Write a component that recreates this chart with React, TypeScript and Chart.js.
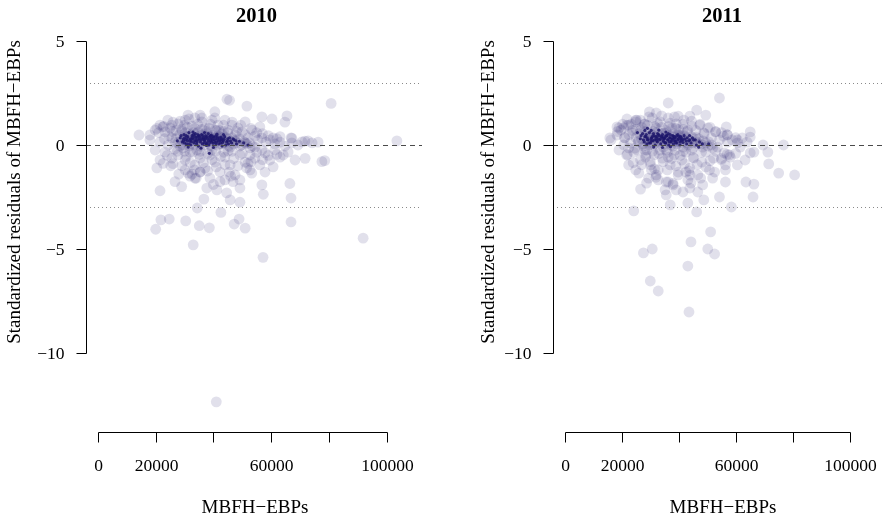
import { useEffect, useRef } from "react";
import { Chart, registerables } from "chart.js";

Chart.register(...registerables);

// ---------- data ----------
const panelTitles = ["2010", "2011"];
const xAxisTitle = "MBFH\u2212EBPs";
const yAxisTitle = "Standardized residuals of MBFH\u2212EBPs";
const xTicks = [0, 20000, 40000, 60000, 80000, 100000];
const xTickLabelsShown = [0, 20000, 60000, 100000];
const yTicks = [5, 0, -5, -10];
const refDashed = [0];
const refDotted = [3, -3];

const resid2010: [number, number][] = [
  [14200, 0.48], [18000, 0.24], [20400, 0.8], [22500, 0.87], [26000, 1.1], [31200, 1.44], [35400, 1.44],
  [40500, 1.6], [44700, 2.2], [45600, 2.15], [51600, 1.87], [56800, 1.35], [60300, 1.25], [65500, 1.4],
  [64800, 1.1], [56100, 0.87], [63100, 0.4], [67200, 0.33], [70700, 0.15], [72800, 0.2], [80800, 2.0],
  [103600, 0.2], [71800, -0.64], [77600, -0.8], [78600, -0.75], [64200, -0.48], [60700, -1.05],
  [66500, -1.85], [66900, -2.55], [66900, -3.7], [56800, -1.92], [57300, -2.37], [91900, -4.48],
  [57200, -5.4], [20400, -1.1], [22600, -0.88], [25200, -1.0], [21500, -2.2], [26700, -1.76],
  [29000, -2.0], [31300, -1.35], [31900, -1.5], [35400, -1.3], [37700, -2.07], [36700, -2.6],
  [34400, -3.03], [42300, -1.76], [41200, -2.16], [44600, -2.3], [45800, -2.64], [49200, -2.75],
  [49200, -2.07], [46800, -1.76], [53300, -1.35], [52000, -0.88], [42600, -3.24], [21800, -3.6],
  [20000, -4.05], [24700, -3.56], [30400, -3.65], [35100, -3.88], [38600, -3.98], [47200, -3.8],
  [48900, -3.56], [51000, -4.0], [33000, -4.8], [41000, -12.35], [60700, 0.34], [66900, 0.34],
  [18000, 0.48], [19800, 0.72], [21500, 0.96], [23200, 0.63], [25000, 0.82], [25600, 0.34], [27700, 1.01],
  [29100, 0.67], [30200, 1.2], [31200, 0.43], [32600, 0.91], [33600, 1.3], [34700, 0.63], [36000, 1.11],
  [37100, 0.82], [38100, 0.43], [39500, 1.2], [40600, 0.72], [41600, 0.96], [43000, 0.53], [44000, 1.2],
  [45100, 0.72], [46400, 0.96], [47500, 0.48], [48500, 0.82], [49900, 0.63], [51000, 1.11], [52000, 0.34],
  [53400, 0.72], [54400, 0.43], [55500, 0.24], [56800, 0.34], [58200, 0.14], [59600, 0.24], [61300, 0.05],
  [63100, 0.14], [64800, -0.05], [67200, 0.1], [69300, 0], [71700, 0.19], [74200, 0.1], [76300, 0.14],
  [26700, 0.14], [28400, -0.05], [30200, 0.24], [31900, 0.05], [33600, 0.29], [35400, -0.05], [37100, 0.19],
  [38800, 0], [40600, 0.29], [42300, 0.05], [44000, 0.14], [45800, -0.1], [47500, 0.19], [49200, -0.05],
  [51000, 0.1], [52700, -0.14], [29500, -0.14], [34300, -0.24], [39500, -0.24], [45100, -0.29],
  [24300, 0], [21500, 0.14], [54400, -0.1], [56800, -0.24],
  [23200, -0.34], [25600, -0.63], [27700, -0.48], [30200, -0.72], [31900, -0.34], [33600, -0.96],
  [35400, -0.63], [37100, -1.11], [38800, -0.48], [40600, -0.82], [42300, -1.3], [44000, -0.58],
  [45800, -0.96], [47500, -1.44], [49200, -0.48], [51000, -0.82], [52700, -1.2], [54400, -0.63],
  [56100, -0.96], [57900, -0.38], [59600, -0.72], [61300, -0.24], [63100, -0.58], [65900, -0.34],
  [68300, -0.72], [21500, -0.72], [19800, -0.24], [38800, -1.59], [33600, -1.59], [44000, -1.68],
  [49200, -1.68], [35400, -1.3], [30200, -1.2], [57900, -1.3], [52700, -0.48], [32600, -1.4],
];

const dense2010: [number, number][] = [
  [27000, 0.3], [27800, 0.1], [28300, 0.5], [28900, 0.25], [29400, 0.0], [29900, 0.4], [30400, 0.6],
  [30800, 0.15], [31300, 0.35], [31700, -0.05], [32100, 0.5], [32500, 0.2], [32900, 0.4], [33300, 0.0],
  [33700, 0.3], [34100, 0.55], [34500, 0.15], [34900, 0.4], [35300, 0.05], [35700, 0.3], [36100, 0.5],
  [36500, 0.2], [36900, 0.0], [37300, 0.35], [37700, 0.55], [38100, 0.15], [38500, 0.4], [38900, 0.25],
  [39300, -0.05], [39700, 0.35], [40100, 0.5], [40500, 0.1], [40900, 0.3], [41300, 0.0], [41700, 0.45],
  [42100, 0.2], [42500, 0.35], [42900, 0.05], [43300, 0.25], [43800, 0.4], [44300, 0.1], [44800, 0.3],
  [45300, -0.05], [45800, 0.2], [46400, 0.35], [47000, 0.05], [47600, 0.25], [48300, 0.1], [49000, 0.3],
  [49800, 0.0], [50600, 0.15], [51500, 0.05], [52500, 0.1], [53500, -0.05], [29000, 0.75], [31000, 0.85],
  [33500, 0.8], [36000, 0.75], [38500, 0.8], [41000, 0.7], [43500, 0.65], [30000, -0.3], [32800, -0.35],
  [35500, -0.3], [38000, -0.4], [40800, -0.3], [43600, -0.35], [46500, -0.3], [24500, 0.45], [25800, 0.65],
  [23000, 0.3], [26500, -0.2],
  [21000, 0.6], [22800, 0.9], [24200, 1.2], [25500, 0.95], [27000, 0.7], [28500, 1.15], [30000, 0.95],
  [31500, 1.25], [33000, 0.6], [34500, 1.0], [36000, 1.3], [37500, 0.65], [39000, 1.0], [40500, 1.3],
  [42000, 0.7], [43500, 0.95], [45000, 0.6], [46500, 1.1], [48000, 0.65], [49500, 0.95], [51000, 0.5],
  [53000, 0.8], [55000, 0.6], [57000, 0.55], [59000, 0.45], [62000, 0.3],
  [24000, -0.5], [26000, -0.9], [27500, -0.3], [29000, -1.0], [30500, -0.55], [32000, -0.85], [33500, -1.2],
  [35000, -0.45], [36500, -0.85], [38000, -1.25], [39500, -0.7], [41000, -1.05], [42500, -0.55],
  [44000, -0.95], [45500, -1.3], [47000, -0.65], [48500, -1.0], [50000, -0.4], [51500, -1.1], [53000, -0.8],
  [55000, -0.35], [57000, -0.7], [59000, -0.5], [62000, -0.45], [34000, -1.6], [40000, -1.9], [46000, -1.5],
  [28000, -1.4],
];

const core2010: [number, number][] = [
  [28500, 0.35], [29200, 0.15], [29800, 0.5], [30300, 0.25], [30700, 0.05], [31100, 0.4], [31500, 0.6],
  [31800, 0.2], [32200, 0.0], [32600, 0.45], [33000, 0.3], [33300, 0.1], [33700, 0.55], [34000, 0.22],
  [34400, 0.38], [34800, -0.05], [35100, 0.3], [35500, 0.15], [35900, 0.5], [36200, 0.05], [36600, 0.35],
  [37000, 0.2], [37300, 0.45], [37700, 0.1], [38000, 0.3], [38400, 0.0], [38800, 0.4], [39100, 0.2],
  [39500, 0.32], [39900, 0.08], [40300, 0.25], [40700, 0.42], [41100, 0.15], [41500, 0.3], [41900, 0.05],
  [42300, 0.22], [42700, 0.38], [43200, 0.12], [43700, 0.28], [44300, 0.0], [44900, 0.2], [45600, 0.35],
  [46300, 0.1], [47100, 0.25], [48000, 0.05], [49000, 0.18], [30000, 0.1], [31300, -0.1], [32900, 0.62],
  [34200, 0.05], [35700, -0.15], [36900, 0.6], [38200, 0.55], [40000, -0.12], [41200, 0.52], [43000, -0.05],
  [33500, 0.42], [36400, 0.28], [39300, 0.48], [37600, -0.02], [35000, 0.45], [32000, 0.3], [29500, 0.3],
  [45200, 0.05], [50500, 0.1], [52000, 0.0], [27500, 0.2], [38600, -0.4], [43500, 0.5],
  [28800, 0.45], [29600, 0.2], [30100, 0.35], [30900, 0.3], [31600, 0.05], [32400, 0.15], [32700, 0.35],
  [33100, 0.5], [33500, 0.2], [33900, 0.35], [34300, 0.15], [34600, 0.5], [35200, 0.4], [35600, 0.25],
  [36000, 0.35], [36300, 0.45], [36800, 0.1], [37200, 0.3], [37500, 0.05], [37900, 0.4], [38300, 0.2],
  [38700, 0.1], [39000, 0.45], [39400, 0.15], [39700, 0.25], [40100, 0.38], [40500, 0.15], [40900, 0.05],
  [41300, 0.4], [41700, 0.2], [42100, 0.35], [42500, 0.1], [42900, 0.3], [43400, 0.2], [43900, 0.4],
  [44600, 0.15], [45000, 0.3], [45900, 0.2], [46800, 0.3], [47800, 0.2], [31000, 0.2], [32300, 0.25],
  [34700, 0.25], [36700, 0.25], [38900, 0.3], [40800, 0.3], [42800, 0.25], [30600, 0.45], [37400, 0.38],
  [39800, 0.4],
];

const resid2011: [number, number][] = [
  [15800, 0.34], [18300, 0.87], [20700, 0.82], [24900, 1.11], [29700, 1.59], [32100, 1.54], [36300, 2.02],
  [39800, 1.39], [43900, 1.39], [46300, 1.68], [49500, 1.44], [54300, 2.26], [56700, 0.87], [57100, 0.48],
  [65100, 0.63], [65100, 0.38], [69600, 0], [76800, 0], [71300, -0.34], [66400, -0.34], [63300, -0.72],
  [71600, -0.91], [75100, -1.35], [80700, -1.44], [56400, -1.2], [56400, -1.78], [54300, -2.5],
  [58500, -2.98], [63600, -1.78], [66400, -1.88], [66100, -2.5], [24900, -1.2], [28700, -1.83],
  [26600, -2.12], [24200, -3.17], [37000, -2.88], [43200, -2.79], [46300, -3.22], [48800, -2.64],
  [39100, -2.16], [43900, -2.07], [35200, -2.16], [30400, -1.2], [32100, -1.44], [35600, -1.78],
  [51200, -4.18], [44300, -4.66], [27600, -5.19], [30700, -5.0], [50200, -5.0], [52600, -5.24],
  [30000, -6.54], [32800, -7.02], [43200, -5.82], [43600, -8.03],
  [65100, -0.38], [58100, -0.58], [56000, -0.38], [56400, -0.96], [61600, -0.1], [60600, 0.24],
  [19000, 0.82], [21700, 0.96], [24900, 1.2], [22400, -0.14], [28300, -0.58], [36300, -0.58],
  [36300, -1.78], [39800, -1.44], [42500, -1.3], [44300, -1.83], [47700, -1.59], [52600, -1.3],
  [16200, 0.24], [18300, 0.48], [19700, 0.72], [21000, 0.34], [22400, 0.96], [23800, 0.58], [25200, 1.2],
  [26600, 0.72], [28000, 1.01], [29400, 0.43], [30700, 1.3], [32100, 0.82], [33500, 1.11], [34900, 0.58],
  [36300, 1.3], [37700, 0.82], [39100, 1.01], [40400, 0.48], [41800, 1.2], [43200, 0.72], [44600, 0.91],
  [46000, 0.38], [47400, 0.96], [48800, 0.58], [50200, 0.82], [51500, 0.34], [52900, 0.63], [54300, 0.24],
  [55700, 0.43], [57100, 0.14], [58800, 0.24], [60600, 0.1], [62300, 0.34], [64000, 0.14],
  [20700, 0], [23100, 0.1], [25900, 0.19], [27600, -0.05], [29400, 0.14], [31100, 0], [32800, 0.24],
  [34600, -0.1], [36300, 0.14], [38000, -0.05], [39800, 0.19], [41500, -0.1], [43200, 0.1], [45000, -0.14],
  [46700, 0.05], [48400, -0.1], [50200, -0.05], [51900, -0.14], [53600, -0.1],
  [19000, -0.24], [21700, -0.48], [24200, -0.34], [26600, -0.72], [28700, -0.24], [30100, -0.96],
  [31400, -0.48], [32800, -1.2], [34200, -0.63], [35600, -0.24], [37000, -0.96], [38400, -0.48],
  [39800, -1.3], [41100, -0.72], [42500, -0.34], [43900, -1.11], [45300, -0.63], [46700, -1.44],
  [48100, -0.82], [49500, -0.34], [50800, -1.2], [52200, -0.63], [55000, -0.72], [57800, -0.48],
  [60600, -0.96], [32800, -1.68], [38000, -1.92], [43200, -1.68], [48400, -1.92], [29400, -1.59],
  [22400, -0.96], [51900, -1.59], [41500, -2.26], [46700, -2.26], [35600, -2.4],
];

const dense2011: [number, number][] = [
  [25000, 0.35], [25800, 0.15], [26300, 0.55], [26900, 0.3], [27400, 0.05], [27900, 0.45], [28400, 0.65],
  [28800, 0.2], [29300, 0.4], [29700, 0.0], [30100, 0.55], [30500, 0.25], [30900, 0.45], [31300, 0.05],
  [31700, 0.35], [32100, 0.6], [32500, 0.2], [32900, 0.45], [33300, 0.1], [33700, 0.35], [34100, 0.55],
  [34500, 0.25], [34900, 0.05], [35300, 0.4], [35700, 0.6], [36100, 0.2], [36500, 0.45], [36900, 0.3],
  [37300, 0.0], [37700, 0.4], [38100, 0.55], [38500, 0.15], [38900, 0.35], [39300, 0.05], [39700, 0.5],
  [40100, 0.25], [40500, 0.4], [40900, 0.1], [41300, 0.3], [41800, 0.45], [42300, 0.15], [42800, 0.35],
  [43300, 0.0], [43800, 0.25], [44400, 0.4], [45000, 0.1], [45600, 0.3], [46300, 0.15], [47000, 0.3],
  [47800, 0.05], [48600, 0.2], [49500, 0.1], [50500, 0.15], [51500, 0.0], [27000, 0.85], [29000, 0.95],
  [31500, 0.9], [34000, 0.85], [36500, 0.9], [39000, 0.8], [41500, 0.75], [28000, -0.25], [30800, -0.3],
  [33500, -0.25], [36000, -0.35], [38800, -0.25], [41600, -0.3], [44500, -0.25], [22500, 0.5], [23800, 0.7],
  [21000, 0.35], [24500, -0.15],
  [18500, 0.65], [20300, 1.0], [21800, 1.25], [23300, 1.0], [25000, 0.75], [26500, 1.2], [28000, 1.0],
  [29500, 1.35], [31000, 0.65], [32500, 1.05], [34000, 1.4], [35500, 0.7], [37000, 1.05], [38500, 1.35],
  [40000, 0.75], [41500, 1.0], [43000, 0.65], [44500, 1.15], [46000, 0.7], [47500, 1.0], [49000, 0.55],
  [51000, 0.85], [53000, 0.65], [55000, 0.6], [57000, 0.5], [60000, 0.35],
  [22000, -0.45], [24000, -0.85], [25500, -0.25], [27000, -0.95], [28500, -0.5], [30000, -0.8],
  [31500, -1.15], [33000, -0.4], [34500, -0.8], [36000, -1.2], [37500, -0.65], [39000, -1.0], [40500, -0.5],
  [42000, -0.9], [43500, -1.25], [45000, -0.6], [46500, -0.95], [48000, -0.35], [49500, -1.05],
  [51000, -0.75], [53000, -0.3], [55000, -0.65], [57000, -0.45], [60000, -0.4], [32000, -1.55],
  [38000, -1.85], [44000, -1.45], [26000, -1.35],
];

const core2011: [number, number][] = [
  [26500, 0.3], [27300, 0.55], [27900, 0.15], [28400, 0.4], [28800, 0.05], [29300, 0.25], [29700, 0.6],
  [30100, 0.1], [30500, 0.35], [30900, 0.2], [31300, 0.45], [31700, 0.0], [32100, 0.3], [32500, 0.15],
  [32900, 0.5], [33300, 0.25], [33700, 0.05], [34100, 0.4], [34500, 0.2], [34900, 0.3], [35300, 0.1],
  [35700, 0.45], [36100, 0.25], [36500, 0.0], [36900, 0.35], [37300, 0.15], [37700, 0.28], [38100, 0.05],
  [38500, 0.4], [38900, 0.2], [39400, 0.1], [39900, 0.3], [40400, 0.0], [40900, 0.22], [41500, 0.12],
  [42100, 0.3], [42800, 0.05], [43500, 0.2], [44300, 0.1], [45200, 0.25], [46200, 0.0], [47300, 0.15],
  [48300, 0.05], [30300, 0.7], [33000, 0.72], [35500, 0.62], [31200, -0.1], [34300, -0.12], [37100, -0.08],
  [39700, 0.5], [36300, 0.55], [28100, 0.7], [32300, 0.4], [34700, 0.35], [38300, 0.32], [40600, 0.42],
  [25500, 0.6], [43800, 0.45], [47000, -0.1], [50500, 0.05], [29000, 0.8],
  [26800, 0.45], [27600, 0.25], [28100, 0.4], [28900, 0.35], [29600, 0.1], [30400, 0.2], [30700, 0.4],
  [31100, 0.55], [31500, 0.25], [31900, 0.4], [32300, 0.2], [32600, 0.55], [33200, 0.45], [33600, 0.3],
  [34000, 0.4], [34300, 0.5], [34800, 0.15], [35200, 0.35], [35500, 0.1], [35900, 0.45], [36300, 0.25],
  [36700, 0.15], [37000, 0.5], [37400, 0.2], [37700, 0.3], [38100, 0.43], [38500, 0.2], [38900, 0.1],
  [39300, 0.45], [39700, 0.25], [40100, 0.4], [40500, 0.15], [40900, 0.35], [41400, 0.25], [41900, 0.45],
  [42600, 0.2], [43000, 0.35], [43900, 0.25], [44800, 0.35], [45800, 0.25], [29000, 0.25], [30300, 0.3],
  [32700, 0.3], [34700, 0.3], [36900, 0.35], [38800, 0.35], [40800, 0.3], [28600, 0.5], [35400, 0.43],
  [37800, 0.45],
];

// ---------- styling ----------
const FONT = '"Liberation Serif", "Times New Roman", serif';
const X_MIN = -4160;
const X_MAX = 112300;
const Y_MIN = -13.8;
const Y_MAX = 5.53;

type PanelCfg = {
  title: string;
  cloud: [number, number][];
  core: [number, number][];
  padLeft: number;
  padRight: number;
  titleX: number;
  yLabelX: number;
  xLabelX: number;
};

function overlayPlugin(cfg: PanelCfg) {
  return {
    id: "rOverlay",
    afterDatasetsDraw(chart: any) {
      const { ctx, chartArea: a, scales } = chart;
      const xs = scales.x;
      const ys = scales.y;
      ctx.save();
      ctx.beginPath();
      ctx.rect(a.left, a.top, a.right - a.left, a.bottom - a.top);
      ctx.clip();
      ctx.lineWidth = 1;
      ctx.strokeStyle = "#8a8a8a";
      ctx.setLineDash([1, 3]);
      refDotted.forEach((v) => {
        const py = Math.round(ys.getPixelForValue(v)) + 0.5;
        ctx.beginPath();
        ctx.moveTo(a.left, py);
        ctx.lineTo(a.right, py);
        ctx.stroke();
      });
      ctx.strokeStyle = "#4a4a4a";
      ctx.setLineDash([5, 4]);
      refDashed.forEach((v) => {
        const py = Math.round(ys.getPixelForValue(v)) + 0.5;
        ctx.beginPath();
        ctx.moveTo(a.left, py);
        ctx.lineTo(a.right, py);
        ctx.stroke();
      });
      ctx.restore();

      ctx.save();
      ctx.setLineDash([]);
      ctx.strokeStyle = "#000";
      ctx.fillStyle = "#000";
      ctx.lineWidth = 1;
      const ax = Math.round(a.left) + 0.5;
      const yTop = ys.getPixelForValue(yTicks[0]);
      const yBot = ys.getPixelForValue(yTicks[yTicks.length - 1]);
      ctx.beginPath();
      ctx.moveTo(ax, Math.round(yTop) + 0.5);
      ctx.lineTo(ax, Math.round(yBot) + 0.5);
      ctx.stroke();
      ctx.font = `17.5px ${FONT}`;
      ctx.textAlign = "right";
      ctx.textBaseline = "middle";
      yTicks.forEach((v) => {
        const py = Math.round(ys.getPixelForValue(v)) + 0.5;
        ctx.beginPath();
        ctx.moveTo(ax, py);
        ctx.lineTo(ax - 10, py);
        ctx.stroke();
        const label = v < 0 ? "\u2212" + Math.abs(v) : String(v);
        ctx.fillText(label, ax - 22, py + 1);
      });
      const ay = Math.round(a.bottom) + 0.5;
      const xl = Math.round(xs.getPixelForValue(xTicks[0])) + 0.5;
      const xr = Math.round(xs.getPixelForValue(xTicks[xTicks.length - 1])) + 0.5;
      ctx.beginPath();
      ctx.moveTo(xl, ay);
      ctx.lineTo(xr, ay);
      ctx.stroke();
      ctx.textAlign = "center";
      ctx.textBaseline = "alphabetic";
      xTicks.forEach((v) => {
        const px = Math.round(xs.getPixelForValue(v)) + 0.5;
        ctx.beginPath();
        ctx.moveTo(px, ay);
        ctx.lineTo(px, ay + 10);
        ctx.stroke();
        if (xTickLabelsShown.includes(v)) ctx.fillText(String(v), px, ay + 38);
      });
      ctx.font = `19px ${FONT}`;
      ctx.fillText(xAxisTitle, cfg.xLabelX, 513);
      ctx.font = `bold 20.5px ${FONT}`;
      ctx.fillText(cfg.title, cfg.titleX, 22);
      ctx.save();
      ctx.translate(cfg.yLabelX, 192);
      ctx.rotate(-Math.PI / 2);
      ctx.font = `19px ${FONT}`;
      ctx.textAlign = "center";
      ctx.textBaseline = "middle";
      ctx.fillText(yAxisTitle, 0, 0);
      ctx.restore();
      ctx.restore();
    },
  };
}

function Panel({ cfg, left }: { cfg: PanelCfg; left: number }) {
  const ref = useRef<HTMLCanvasElement | null>(null);
  useEffect(() => {
    if (!ref.current) return;
    const chart = new Chart(ref.current, {
      type: "scatter",
      data: {
        datasets: [
          {
            data: cfg.core.map(([x, y]) => ({ x, y })),
            pointRadius: 1.6,
            pointBorderWidth: 0,
            backgroundColor: "rgba(30,24,108,0.85)",
            order: 0,
          },
          {
            data: cfg.cloud.map(([x, y]) => ({ x, y })),
            pointRadius: 5.4,
            pointBorderWidth: 0,
            backgroundColor: "rgba(45,35,115,0.14)",
            order: 1,
          },
        ],
      },
      options: {
        responsive: false,
        animation: false,
        devicePixelRatio: 1,
        events: [],
        layout: { padding: { left: cfg.padLeft, right: cfg.padRight, top: 30, bottom: 87 } },
        scales: {
          x: { type: "linear", min: X_MIN, max: X_MAX, display: false },
          y: { type: "linear", min: Y_MIN, max: Y_MAX, display: false },
        },
        plugins: { legend: { display: false }, tooltip: { enabled: false } },
      },
      plugins: [overlayPlugin(cfg)],
    });
    return () => chart.destroy();
  }, [cfg]);
  return (
    <canvas
      ref={ref}
      width={445}
      height={519}
      style={{ position: "absolute", left, top: 0, width: 445, height: 519 }}
    />
  );
}

const panels: PanelCfg[] = [
  { title: panelTitles[0], cloud: [...resid2010, ...dense2010], core: core2010, padLeft: 86, padRight: 23, titleX: 256.5, yLabelX: 15, xLabelX: 255 },
  { title: panelTitles[1], cloud: [...resid2011, ...dense2011], core: core2011, padLeft: 108, padRight: 1, titleX: 277, yLabelX: 44, xLabelX: 278 },
];

export default function App() {
  return (
    <div style={{ position: "absolute", left: 0, top: 0, width: 890, height: 519, background: "#fff" }}>
      <Panel cfg={panels[0]} left={0} />
      <Panel cfg={panels[1]} left={445} />
    </div>
  );
}
